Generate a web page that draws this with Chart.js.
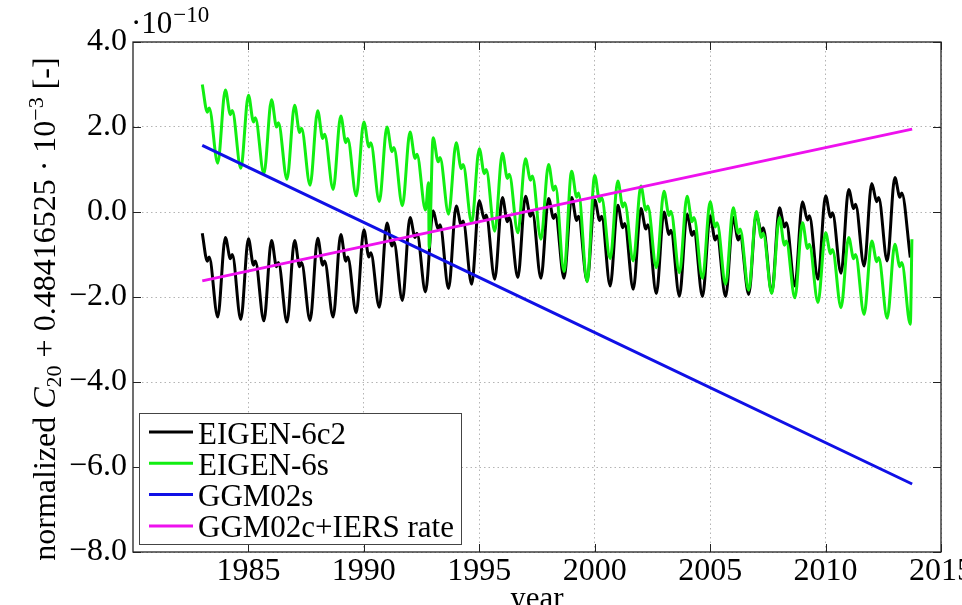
<!DOCTYPE html>
<html>
<head>
<meta charset="utf-8">
<script src="https://cdn.jsdelivr.net/npm/chart.js@4.4.1/dist/chart.umd.min.js"></script>
<style>
  html, body { margin: 0; padding: 0; background: #fff; }
</style>
</head>
<body>
<canvas id="graficoC20" width="962" height="605"></canvas>
<script>
// Anos com ciclo anual (pico no inicio do ano)
const anos = [1983, 1984, 1985, 1986, 1987, 1988, 1989, 1990, 1991, 1992, 1993,
  1994, 1995, 1996, 1997, 1998, 1999, 2000, 2001, 2002, 2003, 2004, 2005, 2006,
  2007, 2008, 2009, 2010, 2011, 2012, 2013];
// Fração do ano para: pico, pequeno vale, ombro, mínimo
const fase = [0, 0.22, 0.3, 0.67];

// EIGEN-6c2 (x 1e-10)
const eigen6c2Pico = [-0.50, -0.60, -0.63, -0.67, -0.67, -0.62, -0.53, -0.42, -0.26, -0.13, 0.03,
  0.14, 0.27, 0.34, 0.37, 0.32, 0.34, 0.28, 0.16, 0.08, 0.00, -0.05, -0.09, -0.13,
  -0.05, 0.10, 0.24, 0.38, 0.53, 0.67, 0.81];
const eigen6c2Vale = [-1.16, -1.10, -1.25, -1.29, -1.29, -1.25, -1.16, -1.06, -0.80, -0.60, -0.40,
  -0.31, -0.17, -0.23, -0.10, -0.15, -0.20, -0.20, -0.37, -0.40, -0.53, -0.55, -0.66, -0.66,
  -0.47, -0.35, -0.19, -0.12, 0.08, 0.24, 0.35];
const eigen6c2Ombro = [-1.06, -1.00, -1.15, -1.19, -1.19, -1.15, -1.06, -0.96, -0.70, -0.50, -0.30,
  -0.21, -0.07, -0.13, 0.00, -0.05, -0.10, -0.10, -0.27, -0.30, -0.43, -0.45, -0.56, -0.56,
  -0.37, -0.25, -0.09, -0.02, 0.18, 0.34, 0.45];
const eigen6c2Minimo = [-2.47, -2.53, -2.56, -2.59, -2.55, -2.47, -2.37, -2.24, -2.08, -1.88, -1.80,
  -1.70, -1.58, -1.54, -1.56, -1.56, -1.62, -1.74, -1.82, -1.92, -1.98, -1.99, -1.99, -1.94,
  -1.90, -1.74, -1.58, -1.44, -1.27, -1.15, -1.07];

// EIGEN-6s (x 1e-10)
const eigen6sPico = [3.00, 2.87, 2.75, 2.64, 2.51, 2.38, 2.26, 2.12, 2.00, 1.88, 1.75,
  1.63, 1.49, 1.38, 1.25, 1.12, 0.96, 0.86, 0.73, 0.61, 0.49, 0.37, 0.24, 0.10,
  0.01, -0.13, -0.25, -0.49, -0.60, -0.68, -0.76];
const eigen6sVale = [2.35, 2.29, 2.12, 2.00, 1.87, 1.73, 1.63, 1.53, 1.42, 1.26, 1.18,
  1.02, 0.90, 0.79, 0.75, 0.51, 0.35, 0.24, 0.12, 0.04, -0.08, -0.23, -0.35, -0.50,
  -0.60, -0.78, -0.86, -0.98, -1.10, -1.17, -1.29];
const eigen6sOmbro = [2.45, 2.39, 2.22, 2.10, 1.97, 1.83, 1.73, 1.63, 1.52, 1.36, 1.28,
  1.12, 1.00, 0.89, 0.85, 0.61, 0.45, 0.34, 0.22, 0.14, 0.02, -0.13, -0.25, -0.40,
  -0.50, -0.68, -0.76, -0.88, -1.00, -1.07, -1.19];
const eigen6sMinimo = [1.15, 1.03, 0.90, 0.77, 0.63, 0.53, 0.38, 0.25, 0.15, 0.05, -0.05,
  -0.25, -0.45, -0.49, -0.64, -1.40, -1.64, -1.10, -1.15, -1.31, -1.43, -1.56, -1.70, -1.84,
  -1.92, -2.02, -2.13, -2.25, -2.41, -2.50, -2.64];
// pontos isolados (pico espúrio em 1992 e salto final)
const eigen6sExtraT = [1992.80, 1992.83, 2013.74];
const eigen6sExtraV = [0.69, -0.84, -0.64];

// Modelos estáticos / tendência
const tempoReta = [1983.0, 2013.75];
const ggm02s = [1.57, -6.40];
const ggm02cIers = [-1.62, 1.95];

const rotulosX = [1985, 1990, 1995, 2000, 2005, 2010, 2015];
const rotulosY = [4, 2, 0, -2, -4, -6, -8];

const fonte = '"Liberation Serif", "DejaVu Serif", serif';

function montarSerie(pico, vale, ombro, minimo, extraT, extraV) {
  const pontos = [];
  anos.forEach((ano, i) => {
    [pico[i], vale[i], ombro[i], minimo[i]].forEach((v, k) => {
      pontos.push({ x: ano + fase[k], y: v });
    });
  });
  (extraT || []).forEach((t, i) => pontos.push({ x: t, y: extraV[i] }));
  return pontos.sort((a, b) => a.x - b.x);
}

function montarReta(valores) {
  return tempoReta.map((t, i) => ({ x: t, y: valores[i] }));
}

const dadosC20 = {
  datasets: [
    { label: "EIGEN-6c2", data: montarSerie(eigen6c2Pico, eigen6c2Vale, eigen6c2Ombro, eigen6c2Minimo),
      borderColor: "#000000", order: 4 },
    { label: "EIGEN-6s", data: montarSerie(eigen6sPico, eigen6sVale, eigen6sOmbro, eigen6sMinimo, eigen6sExtraT, eigen6sExtraV),
      borderColor: "#11ee11", order: 3 },
    { label: "GGM02s", data: montarReta(ggm02s), borderColor: "#1010e6", order: 2 },
    { label: "GGM02c+IERS rate", data: montarReta(ggm02cIers), borderColor: "#ee11ee", order: 1 }
  ]
};
dadosC20.datasets.forEach(d => {
  d.borderWidth = 3;
  d.pointRadius = 0;
  d.fill = false;
  d.cubicInterpolationMode = "monotone";
});

// Moldura, ticks internos, legenda e textos extras
const extrasPlugin = {
  id: "extras",
  afterDraw(chart) {
    const ctx = chart.ctx;
    const a = chart.chartArea;
    const sx = chart.scales.x, sy = chart.scales.y;
    ctx.save();

    // ticks internos (4 lados)
    ctx.strokeStyle = "#222";
    ctx.lineWidth = 1;
    rotulosX.forEach(v => {
      const px = Math.round(sx.getPixelForValue(v)) + 0.5;
      ctx.beginPath();
      ctx.moveTo(px, a.bottom); ctx.lineTo(px, a.bottom - 8);
      ctx.moveTo(px, a.top); ctx.lineTo(px, a.top + 8);
      ctx.stroke();
    });
    rotulosY.forEach(v => {
      const py = Math.round(sy.getPixelForValue(v)) + 0.5;
      ctx.beginPath();
      ctx.moveTo(a.left, py); ctx.lineTo(a.left + 8, py);
      ctx.moveTo(a.right, py); ctx.lineTo(a.right - 8, py);
      ctx.stroke();
    });

    // moldura
    ctx.lineWidth = 1.3;
    ctx.strokeRect(a.left, a.top, a.right - a.left, a.bottom - a.top);

    // legenda
    const lx = 139, ly = 413, lw = 322, lh = 131;
    ctx.fillStyle = "#fff";
    ctx.fillRect(lx, ly, lw, lh);
    ctx.strokeStyle = "#444";
    ctx.lineWidth = 1;
    ctx.strokeRect(lx + 0.5, ly + 0.5, lw, lh);
    ctx.font = "31px " + fonte;
    ctx.textBaseline = "alphabetic";
    ctx.textAlign = "left";
    chart.data.datasets.forEach((d, i) => {
      const yLinha = 432 + i * 31.3;
      ctx.strokeStyle = d.borderColor;
      ctx.lineWidth = 3;
      ctx.beginPath();
      ctx.moveTo(149, yLinha); ctx.lineTo(193, yLinha);
      ctx.stroke();
      ctx.fillStyle = "#000";
      ctx.fillText(d.label, 198, yLinha + 11.5);
    });

    // fator de escala no topo
    ctx.fillStyle = "#000";
    ctx.font = "31px " + fonte;
    ctx.fillText("\u00b710", 131, 33);
    const w10 = ctx.measureText("\u00b710").width;
    ctx.font = "23px " + fonte;
    ctx.fillText("\u221210", 131 + w10 + 1, 22);

    // título do eixo x (cortado na borda)
    ctx.font = "31px " + fonte;
    ctx.textAlign = "center";
    ctx.fillText("year", (a.left + a.right) / 2, 608);

    // título do eixo y com índice e expoente
    const partes = [
      { t: "normalized ", f: "32px " + fonte, dy: 0 },
      { t: "C", f: "italic 32px " + fonte, dy: 0 },
      { t: "20", f: "22px " + fonte, dy: 6 },
      { t: " + 0.48416525 \u00b7 10", f: "32px " + fonte, dy: 0 },
      { t: "\u22123", f: "22px " + fonte, dy: -12 },
      { t: " [-]", f: "32px " + fonte, dy: 0 }
    ];
    let total = 0;
    partes.forEach(p => { ctx.font = p.f; p.w = ctx.measureText(p.t).width; total += p.w; });
    ctx.translate(55, 309);
    ctx.rotate(-Math.PI / 2);
    ctx.textAlign = "left";
    let x = -total / 2;
    partes.forEach(p => {
      ctx.font = p.f;
      ctx.fillText(p.t, x, p.dy);
      x += p.w;
    });
    ctx.restore();
  }
};

const graficoC20 = new Chart(document.getElementById("graficoC20"), {
  type: "line",
  data: dadosC20,
  plugins: [extrasPlugin],
  options: {
    responsive: false,
    animation: false,
    devicePixelRatio: 1,
    layout: { padding: { top: 42, right: 21, left: 0, bottom: 0 } },
    plugins: { legend: { display: false }, tooltip: { enabled: false } },
    scales: {
      x: {
        type: "linear",
        min: 1980,
        max: 2015,
        afterBuildTicks: s => { s.ticks = rotulosX.map(v => ({ value: v })); },
        afterFit: s => { s.height = 53; s.paddingLeft = 0; s.paddingRight = 0; },
        ticks: {
          autoSkip: false, maxRotation: 0, padding: 0, color: "#000",
          font: { family: fonte, size: 32 },
          callback: v => String(v)
        },
        grid: { color: "#b4b4b4", drawTicks: false, lineWidth: 1 },
        border: { display: false, dash: [1.5, 3] }
      },
      y: {
        min: -8,
        max: 4,
        afterBuildTicks: s => { s.ticks = rotulosY.map(v => ({ value: v })); },
        afterFit: s => { s.width = 133; },
        ticks: {
          padding: 6, color: "#000",
          font: { family: fonte, size: 32 },
          callback: v => (v < 0 ? "\u2212" : "") + Math.abs(v).toFixed(1)
        },
        grid: { color: "#b4b4b4", drawTicks: false, lineWidth: 1 },
        border: { display: false, dash: [1.5, 3] }
      }
    }
  }
});
</script>
</body>
</html>
